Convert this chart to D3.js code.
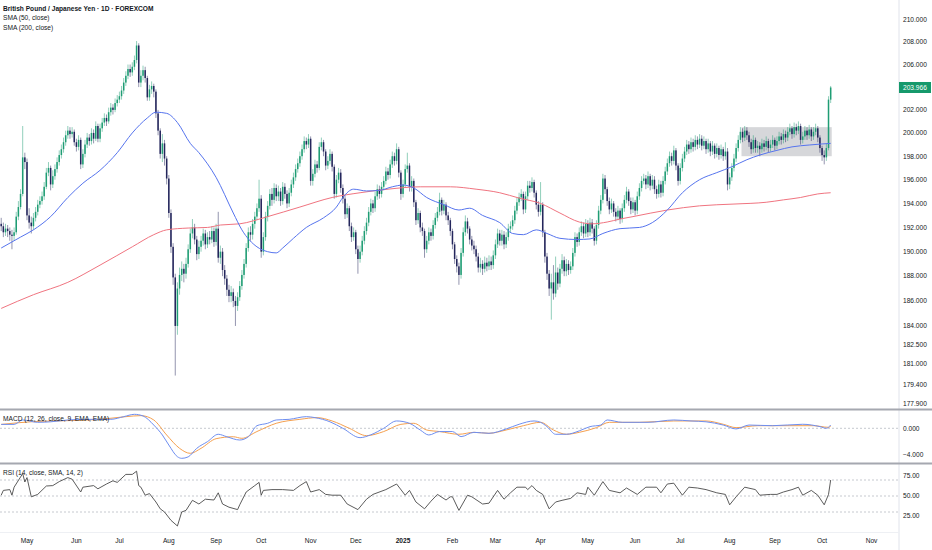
<!DOCTYPE html>
<html>
<head>
<meta charset="utf-8">
<script src="https://cdn.jsdelivr.net/npm/d3@7"></script>
<style>
body{margin:0;background:#fff}
svg{display:block;font-family:"Liberation Sans",Arial,sans-serif}
</style>
</head>
<body>
<svg id="chart" width="932" height="550"></svg>
<script>
// ---- data ----
var startDate = "2024-04-15";   // first daily bar, weekdays only
var firstOpen = 192.3;          // open of the first bar, later opens = previous close

var closes = [
192.1,191.6,191.9,191.7,191.4,191.3,191.6,192.9,193.7,194.8,
197.9,197.5,193.0,192.4,192.1,192.8,193.3,193.9,194.2,194.6,
195.4,196.6,197.0,195.6,196.3,196.9,197.5,198.1,198.6,199.2,
199.8,200.2,199.9,200.1,199.2,198.8,199.4,197.3,198.2,199.0,
199.6,199.3,200.0,199.5,200.6,199.5,200.4,200.9,201.3,201.0,
201.8,202.2,202.0,202.6,202.9,203.2,203.7,204.4,205.0,205.6,
205.3,205.8,206.4,207.7,204.4,205.0,205.5,204.8,203.1,203.8,
204.1,203.6,201.7,200.2,198.2,199.1,197.8,196.1,193.2,190.4,
187.9,184.0,187.0,188.1,188.6,188.2,189.0,190.2,191.5,192.0,
191.0,189.8,190.4,190.9,191.5,190.6,191.2,191.0,191.7,190.8,
191.9,189.5,190.0,188.5,187.8,186.9,186.4,186.7,186.0,185.6,
186.3,187.2,188.1,189.0,190.3,191.6,191.4,192.3,192.9,193.6,
194.4,190.0,191.2,192.9,193.8,194.8,194.3,195.3,194.6,195.0,
194.2,195.4,194.8,194.0,194.9,195.6,196.2,196.9,197.4,198.0,
198.6,199.3,199.0,199.5,195.9,196.5,197.3,197.0,198.8,199.2,
198.4,197.2,197.6,198.2,197.1,194.8,196.0,196.6,195.3,194.4,
193.1,193.6,192.1,191.2,191.6,190.2,189.4,190.0,190.9,191.7,
192.4,193.3,194.0,193.6,194.6,195.2,194.8,195.4,195.9,196.7,
196.4,197.3,198.0,197.6,198.6,196.6,194.8,195.6,196.9,197.2,
195.4,195.9,194.1,192.6,193.2,192.0,191.7,190.2,190.9,191.6,
191.3,192.2,192.8,193.3,194.3,193.4,193.9,193.0,192.6,191.7,
190.6,189.4,188.8,188.1,189.9,191.6,192.5,191.9,191.0,190.5,
190.2,189.6,188.7,189.0,188.6,189.1,188.8,189.2,188.9,189.7,
190.6,191.5,190.9,191.4,190.6,191.2,191.9,192.1,192.6,193.4,
194.1,194.5,194.8,193.5,194.6,195.5,195.3,195.8,194.9,193.9,
193.3,193.9,191.6,189.6,188.2,187.0,187.5,186.6,188.3,187.4,
188.6,189.3,188.4,189.0,188.5,188.8,189.9,191.2,190.8,191.6,
192.1,191.5,192.3,191.6,192.4,191.9,190.9,192.2,193.4,194.3,
196.1,195.2,194.2,193.5,194.0,193.3,192.9,193.4,192.7,193.6,
194.3,195.0,194.2,193.5,194.1,193.4,194.6,195.3,195.9,196.1,
195.6,196.3,195.5,196.0,195.2,194.8,195.6,194.9,195.9,196.7,
197.4,198.0,197.6,198.5,197.2,195.9,197.0,197.8,198.4,199.0,
198.6,199.2,198.8,199.4,199.0,199.5,198.9,199.3,198.6,199.1,
198.4,198.9,198.2,198.7,198.1,198.6,198.0,198.4,195.6,196.2,
197.0,197.8,198.7,199.4,200.1,199.6,200.2,199.8,199.2,198.6,
199.4,198.7,198.9,198.6,199.1,198.8,199.3,198.7,199.0,199.4,
198.9,199.3,199.7,199.4,199.9,199.6,200.1,200.4,199.9,200.5,
200.2,200.6,199.4,199.7,200.2,199.8,200.3,199.7,200.1,200.4,
199.6,198.7,198.1,197.9,198.7,202.9,203.966
];

var highs = [
192.8,192.4,192.3,192.2,192.0,191.8,192.0,193.3,194.2,195.2,
200.6,198.3,197.8,193.6,192.9,193.2,193.7,194.3,194.6,195.0,
195.8,197.0,197.5,197.2,196.8,197.3,197.9,198.5,199.0,199.6,
200.2,200.6,200.5,200.5,200.3,199.5,199.8,199.6,198.6,199.4,
200.0,199.9,200.4,200.3,201.0,200.8,200.8,201.3,201.7,201.6,
202.2,202.6,202.5,203.0,203.3,203.6,204.1,204.8,205.4,206.0,
206.0,206.2,206.8,208.1,207.9,205.5,205.9,205.8,205.0,204.2,
204.5,204.3,203.8,202.0,200.4,199.9,199.4,198.0,196.4,193.5,
190.7,188.2,187.5,188.7,189.2,189.0,189.5,190.6,191.9,192.7,
192.3,191.3,190.9,191.3,191.9,191.8,191.6,191.7,192.1,192.0,
192.3,193.3,190.5,190.3,188.9,188.1,187.3,187.2,187.0,186.4,
186.7,187.6,188.5,189.4,190.7,192.0,192.1,192.7,193.3,194.0,
196.0,194.7,191.6,193.3,194.2,195.2,195.3,195.7,195.6,195.5,
195.3,195.8,195.7,195.1,195.3,196.0,196.6,197.3,197.8,198.4,
199.0,199.7,199.6,199.9,199.7,196.9,197.7,197.6,199.2,199.6,
199.4,198.6,198.0,198.6,198.4,197.3,196.4,197.0,196.9,195.6,
194.7,194.0,193.8,192.4,192.0,191.8,190.5,190.5,191.3,192.1,
192.8,193.7,194.4,194.3,195.0,195.6,195.5,195.8,196.3,197.1,
197.0,197.7,198.4,198.3,199.1,198.8,196.8,196.0,197.3,198.3,
197.4,196.3,196.1,194.3,193.6,193.4,192.4,191.9,191.3,192.0,
191.9,192.6,193.2,193.7,194.9,194.5,194.3,194.1,193.3,192.8,
191.9,190.8,189.7,189.1,190.3,192.0,193.0,192.8,192.1,191.3,
190.9,190.5,189.9,189.5,189.3,189.6,189.5,189.7,189.6,190.1,
191.0,191.9,191.8,191.8,191.7,191.6,192.3,192.5,193.0,193.8,
194.5,194.9,195.2,195.0,195.0,195.9,195.9,196.2,196.0,195.1,
194.2,195.8,194.1,191.8,189.9,188.5,188.2,188.9,189.6,188.7,
189.0,189.8,189.6,189.4,189.3,189.2,190.3,191.6,191.5,192.0,
192.5,192.4,192.7,192.6,192.8,192.7,192.1,192.6,193.8,194.7,
196.5,196.4,195.4,194.5,194.4,194.2,193.6,193.8,193.6,194.0,
194.7,195.4,195.2,194.5,194.5,194.3,195.0,195.7,196.3,196.5,
196.4,196.7,196.5,196.4,196.3,195.5,196.0,195.9,196.3,197.1,
197.8,198.4,198.3,198.9,198.7,197.4,197.4,198.2,198.8,199.4,
199.3,199.6,199.5,199.8,199.7,199.9,199.8,199.7,199.5,199.5,
199.3,199.3,199.1,199.1,198.9,199.0,198.8,199.2,198.7,196.6,
197.4,198.2,199.1,199.8,200.5,200.4,200.6,200.5,200.1,199.5,
199.8,199.6,199.3,199.2,199.5,199.4,199.7,199.5,199.4,199.8,
199.6,199.7,200.1,200.0,200.3,200.2,200.5,200.8,200.6,200.9,
200.8,201.0,200.8,200.1,200.6,200.5,200.7,200.5,200.5,200.8,
200.6,199.8,198.9,198.5,199.1,203.2,204.1
];

var lows = [
191.7,191.2,191.3,191.2,190.9,190.2,190.9,191.4,192.6,193.5,
194.6,196.9,192.6,191.9,191.5,191.8,192.5,193.0,193.6,193.9,
194.3,195.2,196.3,195.1,195.3,196.0,196.6,197.2,197.8,198.3,
198.9,199.5,199.5,199.6,198.9,198.4,198.5,196.9,197.0,197.9,
198.7,198.9,199.0,199.1,199.3,199.2,199.2,200.1,200.6,200.6,
200.8,201.5,201.6,201.8,202.3,202.6,202.9,203.4,204.1,204.7,
204.9,205.0,205.5,206.1,204.0,204.0,204.6,204.4,202.8,202.8,
203.4,203.1,201.3,199.8,197.8,197.5,197.2,195.6,192.8,189.9,
187.3,180.1,183.3,186.5,187.6,187.5,187.8,188.7,189.9,191.1,
190.6,189.3,189.4,190.0,190.5,190.2,190.3,190.6,190.7,190.4,
190.5,189.1,189.0,188.0,187.3,186.4,185.9,185.9,185.5,184.0,
185.2,186.0,186.9,187.8,188.7,190.0,190.9,191.0,191.9,192.6,
193.3,189.5,189.7,190.9,192.5,193.5,193.8,194.0,194.2,194.2,
193.8,193.9,194.4,193.6,193.7,194.6,195.3,195.9,196.6,197.1,
197.7,198.3,198.6,198.7,195.5,195.5,196.2,196.6,196.8,198.5,
198.0,196.8,196.9,197.3,196.7,194.4,194.5,195.7,194.9,194.0,
192.7,192.8,191.7,190.8,190.9,189.8,188.2,189.1,189.7,190.6,
191.4,192.1,193.0,193.2,193.3,194.3,194.4,194.5,195.1,195.6,
196.0,196.1,197.0,197.2,197.3,196.2,194.3,194.5,195.3,196.6,
195.0,195.0,193.7,192.2,192.3,191.6,191.3,189.5,189.9,190.6,
190.9,191.0,191.9,192.5,193.0,193.0,193.1,192.6,192.2,191.3,
190.2,189.0,188.3,187.3,187.8,189.6,191.3,191.5,190.6,190.1,
189.8,189.2,188.3,188.3,188.1,188.3,188.4,188.5,188.5,188.6,
189.4,190.3,190.5,190.5,190.2,190.3,190.9,191.6,191.8,192.3,
193.1,193.8,194.2,193.1,193.2,194.3,194.9,195.0,194.5,193.5,
192.9,193.0,191.2,189.1,187.7,186.4,184.5,186.1,186.3,186.9,
187.1,188.2,188.0,188.0,188.1,188.2,188.5,189.6,190.4,190.5,
191.3,191.1,191.2,191.2,191.3,191.5,190.5,190.6,191.9,193.1,
194.0,194.8,193.8,193.1,193.2,192.9,192.5,192.6,192.3,192.4,
193.3,194.0,193.8,193.1,193.2,193.0,193.1,194.3,195.0,195.6,
195.2,195.3,195.1,195.2,194.8,194.4,194.5,194.5,194.6,195.6,
196.4,197.1,197.2,197.3,196.8,195.5,195.6,196.7,197.5,198.1,
198.2,198.3,198.4,198.5,198.6,198.7,198.5,198.6,198.2,198.3,
198.0,198.1,197.8,197.9,197.7,197.8,197.6,197.7,195.1,195.2,
195.9,196.7,197.5,198.4,199.1,199.2,199.3,199.4,198.8,198.2,
198.3,198.3,198.3,198.0,198.3,198.4,198.5,198.3,198.4,198.7,
198.5,198.6,199.0,199.0,199.1,199.2,199.3,199.8,199.5,199.6,
199.8,199.9,199.0,199.1,199.4,199.4,199.5,199.3,199.4,199.8,
199.2,198.3,197.6,197.3,197.6,198.5,202.6
];

// moving averages: [bar, value]
var sma50 = [[0,190.3],[9,191.2],[15,191.8],[23,192.9],[31,194.5],[38,195.7],[46,196.8],[54,198.3],[61,200.0],[68,201.3],[72,201.8],[77,201.7],[82,200.9],[88,199.1],[92,198.3],[100,196.2],[108,193.2],[112,191.8],[119,190.4],[124,190.0],[128,189.9],[131,190.3],[136,191.1],[142,192.0],[150,192.8],[156,193.7],[159,194.5],[164,195.2],[170,195.05],[176,195.1],[182,195.4],[187,195.55],[192,195.3],[198,194.5],[206,193.9],[213,193.45],[218,193.6],[224,193.0],[232,192.4],[238,191.5],[243,191.4],[249,191.8],[254,191.5],[260,191.1],[268,191.0],[274,191.05],[280,191.5],[288,191.9],[297,192.0],[303,192.4],[310,193.45],[317,194.9],[325,196.0],[333,196.6],[340,197.1],[347,197.7],[353,198.1],[361,198.5],[368,198.8],[376,198.96],[382,199.05],[386,199.1]];
var sma200 = [[0,185.4],[15,186.5],[31,187.5],[46,188.9],[61,190.4],[71,191.4],[77,191.8],[87,191.95],[96,192.0],[102,192.2],[111,192.3],[124,192.9],[139,193.7],[154,194.5],[167,194.9],[180,195.2],[195,195.4],[209,195.4],[221,195.2],[232,194.9],[241,194.45],[251,194.0],[260,193.2],[269,192.45],[275,192.3],[282,192.45],[288,192.7],[294,192.9],[310,193.45],[325,193.8],[341,193.95],[356,194.1],[364,194.3],[372,194.5],[380,194.8],[386,194.9]];

// MACD (12,26,9): [bar, value]
var macdLine = [[0,0.6],[6,0.6],[10,1.28],[17,0.92],[23,1.0],[31,1.28],[40,1.38],[51,1.38],[57,1.79],[62,2.15],[66,1.9],[71,0.5],[75,-1.03],[78,-2.57],[82,-4.37],[84,-4.62],[87,-4.4],[91,-3.08],[96,-2.05],[101,-0.92],[105,-1.3],[111,-1.8],[115,-1.3],[119,0.4],[124,0.77],[128,1.28],[134,1.38],[142,1.79],[146,1.64],[153,1.0],[159,0],[167,-1.44],[172,-1.0],[178,0],[184,1.13],[190,0.77],[195,-0.26],[199,-1.03],[204,-0.5],[210,-0.5],[214,-1.28],[220,-0.62],[227,-0.77],[235,-0.1],[241,0.62],[248,1.13],[251,0.92],[254,0.26],[258,-0.92],[263,-0.92],[269,-0.4],[274,0.26],[279,0.5],[282,1.28],[289,0.92],[301,0.92],[313,1.28],[321,1.13],[328,1.0],[336,0.5],[342,-0.1],[348,0.5],[359,0.4],[373,0.62],[381,0.26],[384,0.0],[386,0.5]];
var signalLine = [[0,0.6],[15,1.03],[31,1.18],[46,1.38],[58,1.79],[65,1.95],[71,1.28],[77,-1.03],[83,-3.08],[88,-3.85],[93,-3.08],[100,-1.6],[108,-1.3],[112,-1.54],[119,-0.5],[128,0.77],[139,1.38],[147,1.64],[154,1.13],[162,0],[170,-1.13],[178,-0.5],[186,0.61],[192,0.77],[198,-0.26],[204,-0.5],[213,-0.92],[220,-0.62],[227,-0.77],[235,-0.26],[243,0.4],[251,0.92],[257,-0.26],[263,-0.92],[269,-0.62],[277,0.1],[283,0.92],[297,0.92],[313,1.13],[328,1.13],[336,0.62],[342,0.1],[352,0.4],[367,0.4],[378,0.4],[385,0.15],[386,0.3]];

// RSI (14): [bar, value]
var rsiLine = [[0,51],[1,57],[4,58],[5,51],[6,61],[10,78],[11,67.5],[12,73],[14,49],[17,52],[21,62.5],[24,63],[27,68],[31,73],[33,71],[37,55],[38,61],[43,63],[45,59],[49,65],[52,69],[54,67],[58,77],[61,77],[63,81],[64,63],[65,61],[67,51],[69,53],[72,42.5],[74,34],[76,30],[79,19.6],[82,12.5],[84,30],[86,32],[89,44.6],[92,40],[95,46],[99,45],[101,54],[103,40],[106,36],[110,33],[111,39],[114,55],[118,63],[120,67],[121,51],[122,57],[126,58],[131,58],[136,57],[139,63],[142,68],[144,55],[148,58],[151,52],[154,51],[158,51],[161,40],[166,33],[170,46],[173,52],[179,58],[184,65],[188,51],[190,57],[193,42.5],[197,34],[200,43.5],[203,52],[207,45],[209,49],[210,49],[213,32],[217,51],[219,49],[224,40],[227,41],[231,57],[234,46],[237,54],[240,61],[244,61],[245,58],[247,63],[249,57],[252,52],[255,34],[258,42.5],[261,44.6],[265,47],[268,54],[272,52],[273,61],[276,51],[280,68],[283,57],[288,54],[291,60],[296,52],[300,61],[305,61],[307,54],[310,65],[313,66],[317,51],[320,61],[324,60],[328,58],[333,54],[337,52],[339,39],[342,49],[346,61],[351,58],[353,51],[358,52],[361,52],[364,55],[368,58],[371,61],[373,51],[377,57],[380,51],[383,39],[385,52],[386,70]];

var priceTicks = [210, 208, 206, 202, 200, 198, 196, 194, 192, 190, 188, 186, 184, 182.5, 181, 179.4, 177.9];
var macdTicks = [0, -4];
var rsiTicks = [75, 50, 25];
var rsiBands = [70, 50, 30];
var lastPrice = 203.966;
var rangeBox = {fromBar: 345, toBar: 386, low: 198.0, high: 200.5};
var legendLines = ["British Pound / Japanese Yen · 1D · FOREXCOM", "SMA (50, close)", "SMA (200, close)"];
var macdTitle = "MACD (12, 26, close, 9, EMA, EMA)";
var rsiTitle = "RSI (14, close, SMA, 14, 2)";

// ---- layout ----
var W = 932, H = 550, plotR = 899;
var upColor = "#1f9d74", downColor = "#24265c";
var svg = d3.select("#chart");
svg.append("rect").attr("width", W).attr("height", H).attr("fill", "#fff");

// bar dates (weekdays), including future ones for the axis
var dates = [], d = d3.timeParse("%Y-%m-%d")(startDate);
while (dates.length < 420) {
  if (d.getDay() !== 0 && d.getDay() !== 6) dates.push(new Date(d));
  d = d3.timeDay.offset(d, 1);
}

var x = d3.scaleLinear().domain([-0.56, 417.8]).range([0, plotR]);
var y = d3.scaleLog().domain([210, 177.9]).range([20, 404]);
var yM = d3.scaleLinear().domain([0, -4]).range([428.3, 454.3]);
var yR = d3.scaleLinear().domain([50, 25]).range([496, 516]);

var defs = svg.append("defs");
defs.append("clipPath").attr("id", "cMain").append("rect").attr("x", 0).attr("y", 0).attr("width", plotR).attr("height", 408);
defs.append("clipPath").attr("id", "cMacd").append("rect").attr("x", 0).attr("y", 411).attr("width", plotR).attr("height", 51);
defs.append("clipPath").attr("id", "cRsi").append("rect").attr("x", 0).attr("y", 465).attr("width", plotR).attr("height", 67);

// ---- main panel ----
var main = svg.append("g").attr("clip-path", "url(#cMain)");

main.append("rect")
  .attr("x", x(rangeBox.fromBar - 0.5))
  .attr("width", x(rangeBox.toBar + 0.5) - x(rangeBox.fromBar - 0.5))
  .attr("y", y(rangeBox.high))
  .attr("height", y(rangeBox.low) - y(rangeBox.high))
  .attr("fill", "#cfd0d3").attr("opacity", 0.85);

var candles = closes.map(function (c, i) {
  return {i: i, o: i ? closes[i - 1] : firstOpen, h: highs[i], l: lows[i], c: c};
});
var bw = (x(1) - x(0)) * 0.7;

var cg = main.append("g").selectAll("g").data(candles).enter().append("g");
cg.append("line")
  .attr("x1", function (k) { return x(k.i); })
  .attr("x2", function (k) { return x(k.i); })
  .attr("y1", function (k) { return y(k.h); })
  .attr("y2", function (k) { return y(k.l); })
  .attr("stroke", function (k) { return k.c >= k.o ? upColor : downColor; })
  .attr("stroke-opacity", 0.55)
  .attr("stroke-width", 0.9);
cg.append("rect")
  .attr("x", function (k) { return x(k.i) - bw / 2; })
  .attr("width", bw)
  .attr("y", function (k) { return y(Math.max(k.o, k.c)); })
  .attr("height", function (k) { return Math.max(0.7, Math.abs(y(k.o) - y(k.c))); })
  .attr("fill", function (k) { return k.c >= k.o ? upColor : downColor; });

var maLine = d3.line().x(function (p) { return x(p[0]); }).y(function (p) { return y(p[1]); }).curve(d3.curveMonotoneX);
main.append("path").datum(sma200).attr("d", maLine).attr("fill", "none").attr("stroke", "#f07480").attr("stroke-width", 1);
main.append("path").datum(sma50).attr("d", maLine).attr("fill", "none").attr("stroke", "#5674ee").attr("stroke-width", 1);

// legend
svg.append("g").selectAll("text").data(legendLines).enter().append("text")
  .attr("x", 3)
  .attr("y", function (t, i) { return 10.5 + i * 9.6; })
  .attr("font-size", 6.6)
  .attr("font-weight", function (t, i) { return i === 0 ? 700 : 400; })
  .attr("fill", "#131722")
  .text(function (t) { return t; });

// ---- MACD panel ----
var mg = svg.append("g").attr("clip-path", "url(#cMacd)");
mg.append("line").attr("x1", 0).attr("x2", plotR).attr("y1", yM(0)).attr("y2", yM(0))
  .attr("stroke", "#b8bbc3").attr("stroke-dasharray", "2,2").attr("stroke-width", 0.8);
var mLine = d3.line().x(function (p) { return x(p[0]); }).y(function (p) { return yM(p[1]); }).curve(d3.curveMonotoneX);
mg.append("path").datum(signalLine).attr("d", mLine).attr("fill", "none").attr("stroke", "#f5a04f").attr("stroke-width", 1);
mg.append("path").datum(macdLine).attr("d", mLine).attr("fill", "none").attr("stroke", "#6e8ef0").attr("stroke-width", 1);
svg.append("text").attr("x", 3).attr("y", 421).attr("font-size", 6.6).attr("fill", "#131722").text(macdTitle);

// ---- RSI panel ----
var rg = svg.append("g").attr("clip-path", "url(#cRsi)");
rg.selectAll("line.band").data(rsiBands).enter().append("line")
  .attr("x1", 0).attr("x2", plotR)
  .attr("y1", function (v) { return yR(v); }).attr("y2", function (v) { return yR(v); })
  .attr("stroke", "#b8bbc3").attr("stroke-dasharray", "2,2").attr("stroke-width", 0.8);
var rLine = d3.line().x(function (p) { return x(p[0]); }).y(function (p) { return yR(p[1]); });
rg.append("path").datum(rsiLine).attr("d", rLine).attr("fill", "none").attr("stroke", "#4a4a4a").attr("stroke-width", 0.9);
svg.append("text").attr("x", 3).attr("y", 475).attr("font-size", 6.6).attr("fill", "#131722").text(rsiTitle);

// ---- separators ----
svg.append("line").attr("x1", plotR).attr("x2", plotR).attr("y1", 0).attr("y2", H).attr("stroke", "#e0e3eb").attr("stroke-width", 1);
[409.5, 463.5].forEach(function (yy) {
  svg.append("line").attr("x1", 0).attr("x2", W).attr("y1", yy).attr("y2", yy).attr("stroke", "#a5a8b0").attr("stroke-width", 1.8);
});
svg.append("line").attr("x1", 0).attr("x2", plotR).attr("y1", 532.5).attr("y2", 532.5).attr("stroke", "#eef0f4").attr("stroke-width", 1);

// ---- right axes ----
var fmt3 = d3.format(".3f"), fmt2 = d3.format(".2f");
function axisLabels(vals, scale, fmt) {
  svg.append("g").selectAll("text").data(vals).enter().append("text")
    .attr("x", 903).attr("y", function (v) { return scale(v); })
    .attr("dy", "0.35em").attr("font-size", 6.6).attr("fill", "#131722")
    .text(function (v) { return fmt(v).replace("-", "\u2212"); });
}
axisLabels(priceTicks, y, fmt3);
axisLabels(macdTicks, yM, fmt3);
axisLabels(rsiTicks, yR, fmt2);

var by = y(lastPrice);
svg.append("rect").attr("x", plotR).attr("y", by - 5.5).attr("width", 32).attr("height", 11).attr("fill", "#15996b");
svg.append("text").attr("x", 903).attr("y", by).attr("dy", "0.35em").attr("font-size", 6.6).attr("fill", "#fff").text(fmt3(lastPrice));

// ---- time axis (first bar of each month) ----
var monthTicks = [];
dates.forEach(function (dt, i) {
  if (i > 0 && dt.getMonth() !== dates[i - 1].getMonth() && x(i) < plotR - 10) {
    monthTicks.push({i: i, year: dt.getMonth() === 0, label: dt.getMonth() === 0 ? d3.timeFormat("%Y")(dt) : d3.timeFormat("%b")(dt)});
  }
});
svg.append("g").selectAll("text").data(monthTicks).enter().append("text")
  .attr("x", function (t) { return x(t.i); })
  .attr("y", 541).attr("dy", "0.35em")
  .attr("text-anchor", "middle")
  .attr("font-size", 6.6)
  .attr("font-weight", function (t) { return t.year ? 700 : 400; })
  .attr("fill", "#131722")
  .text(function (t) { return t.label; });
</script>
</body>
</html>
